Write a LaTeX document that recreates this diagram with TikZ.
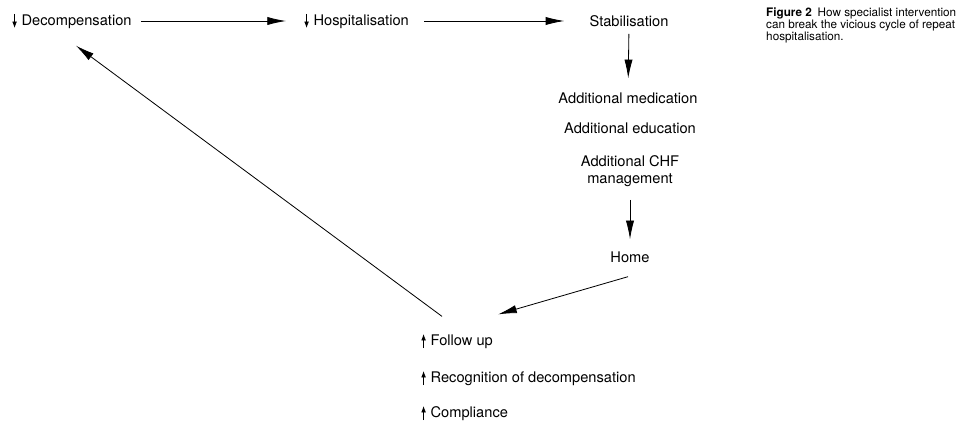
\documentclass[tikz,border=0pt]{standalone}
\usepackage{fontspec}
\setmainfont{TeX Gyre Heros}
\usetikzlibrary{arrows.meta,positioning,calc}

% small arrows in front of the labels
\newcommand{\dnarr}{\tikz[baseline=0pt]\draw[line width=0.6pt,-{Latex[length=5.5pt,width=4pt]}] (0,9.5pt) -- (0,-2.5pt);\hspace{4pt}}
\newcommand{\uparr}{\tikz[baseline=0pt]\draw[line width=0.6pt,-{Latex[length=5.5pt,width=4pt]}] (0,-2.5pt) -- (0,9.5pt);\hspace{4pt}}

\begin{document}
\begin{tikzpicture}[x=0.03cm,y=-0.03cm,
    label/.style={inner sep=0pt,font=\fontsize{12.5}{14.5}\selectfont},
    arr/.style={line width=0.7pt,-{Latex[length=16pt,width=7pt]}}]
    \useasboundingbox (0,0) rectangle (961,425);

    % Top row
    \node[label,anchor=west] (dec) at (12,21) {\dnarr Decompensation};
    \node[label,anchor=west] (hosp) at (304,21) {\dnarr Hospitalisation};
    \node[label] (stab) at (629,21) {Stabilisation};

    % Specialist care
    \node[label] (med) at (628,98) {Additional medication};
    \node[label] (edu) at (630,128) {Additional education};
    \node[label,align=center] (chf) at (630,171) {Additional CHF\\management};
    \node[label] (home) at (630,257) {Home};

    % Improvements
    \node[label,anchor=west] (fol) at (421,341) {\uparr Follow up};
    \node[label,anchor=west] (rec) at (421,378) {\uparr Recognition of decompensation};
    \node[label,anchor=west] (comp) at (421,413) {\uparr Compliance};

    % Caption
    \node[anchor=north west,align=left,inner sep=0pt,font=\fontsize{10}{10.2}\selectfont] (cap) at (766,8)
      {\textbf{Figure 2}\enspace How specialist intervention\\can break the vicious cycle of repeat\\hospitalisation.};

    % Cycle
    \draw[arr,shorten <=0.27cm,shorten >=0.54cm] (dec.east) -- (hosp.west);
    \draw[arr,shorten <=0.45cm,shorten >=0.75cm] (hosp.east) -- (stab.west);
    \draw[arr,shorten <=0.21cm,shorten >=0.42cm] (stab.south) -- (med.north);
    \draw[arr,shorten <=0.39cm,shorten >=0.36cm] (chf.south) -- (home.north);
    \draw[arr] ([shift={(-2,14)}]home.south) -- ([shift={(5,-19)}]fol.north east);
    \draw[arr] ([shift={(21,-17)}]fol.north west) -- ([shift={(4,17)}]dec.south);
\end{tikzpicture}
\end{document}
